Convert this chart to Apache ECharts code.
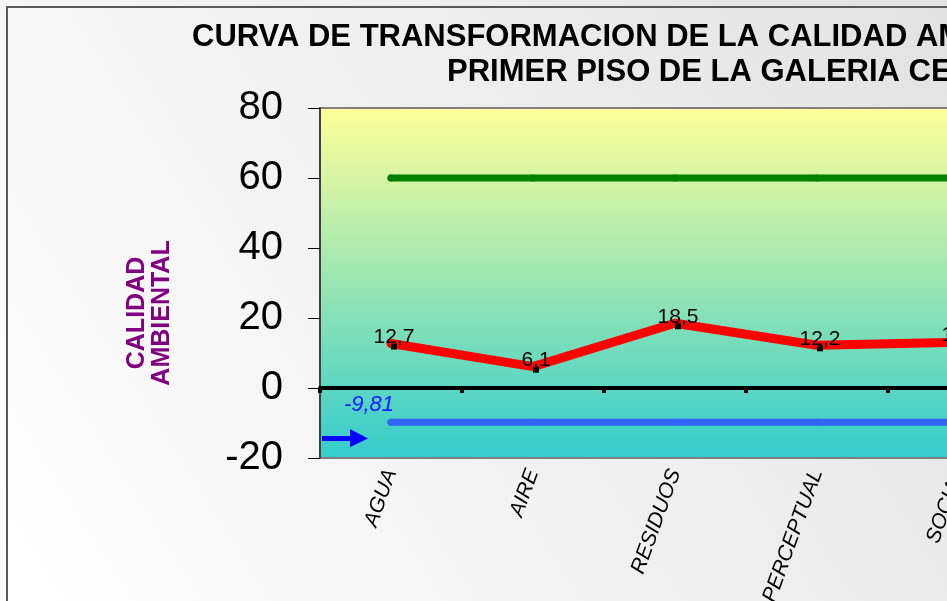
<!DOCTYPE html>
<html><head><meta charset="utf-8">
<script src="https://cdn.jsdelivr.net/npm/echarts@6/dist/echarts.min.js"></script>
<style>html,body{margin:0;padding:0;background:#fff}#c{width:947px;height:601px}</style>
</head><body><div id="c"></div>
<script>
const categories = ['AGUA', 'AIRE', 'RESIDUOS', 'PERCEPTUAL', 'SOCIAL'];
const calidad = [12.7, 6.1, 18.5, 12.2, 13.1];
const limiteSuperior = [60, 60, 60, 60, 60];
const limiteInferior = [-9.81, -9.81, -9.81, -9.81, -9.81];
const yMin = -20, yMax = 80, yInterval = 20;
const titleLines = ['CURVA DE TRANSFORMACION DE LA CALIDAD AMBIENTAL DEL', 'PRIMER PISO DE LA GALERIA CENTRAL'];
const yNameLines = ['CALIDAD', 'AMBIENTAL'];

const FONT = 'Liberation Sans, Arial, sans-serif';
const fmt = v => String(v).replace('.', ',');
const chart = echarts.init(document.getElementById('c'));
chart.setOption({
  animation: false,
  backgroundColor: {type: 'linear', x: 0, y: 1, x2: 1, y2: 0, colorStops: [{offset: 0, color: '#ffffff'}, {offset: 1, color: '#e2e2e2'}]},
  title: [
    {text: titleLines[0], left: 192, top: 22, padding: 0, textStyle: {fontSize: 31, fontWeight: 'bold', fontFamily: FONT, color: '#000'}},
    {text: titleLines[1], left: 447, top: 57, padding: 0, textStyle: {fontSize: 31, fontWeight: 'bold', fontFamily: FONT, color: '#000'}}
  ],
  grid: {
    left: 320, top: 108, height: 350, width: 710, show: true, outerBoundsMode: 'none', containLabel: false,
    backgroundColor: {type: 'linear', x: 0, y: 0, x2: 0, y2: 1, colorStops: [{offset: 0, color: '#ffff99'}, {offset: 1, color: '#33cccc'}]},
    borderColor: '#808080', borderWidth: 2
  },
  xAxis: [
    {type: 'category', data: categories, position: 'bottom',
     axisLine: {show: false, onZero: false}, axisTick: {show: false},
     axisLabel: {rotate: 70, fontSize: 21, fontStyle: 'italic', color: '#000', margin: 12, fontFamily: FONT}},
    {type: 'category', data: categories, position: 'bottom',
     axisLine: {show: true, onZero: true, lineStyle: {color: '#000', width: 4}},
     axisTick: {show: true, length: 5, lineStyle: {color: '#000', width: 4}},
     axisLabel: {show: false}}
  ],
  yAxis: {
    type: 'value', min: yMin, max: yMax, interval: yInterval,
    axisLine: {show: true, onZero: false, lineStyle: {color: '#404040', width: 2}},
    axisTick: {show: true, length: 12, lineStyle: {color: '#000', width: 1}},
    axisLabel: {fontSize: 40, color: '#000', margin: 37, fontFamily: FONT},
    splitLine: {show: false}
  },
  graphic: [
    {type: 'text', x: 150, y: 313, rotation: Math.PI / 2,
     style: {text: yNameLines.join('\n'), fill: '#800080', font: 'bold 25px Liberation Sans', align: 'center', verticalAlign: 'middle', lineHeight: 25}},
    {type: 'rect', shape: {x: 7, y: 7, width: 1200, height: 800}, style: {fill: 'none', stroke: '#5a5a5a', lineWidth: 2}, silent: true},
    {type: 'rect', shape: {x: 322, y: 436, width: 30, height: 5}, style: {fill: '#0000ff'}},
    {type: 'polygon', shape: {points: [[350, 429], [368, 438.5], [350, 447]]}, style: {fill: '#0000ff'}}
  ],
  series: [
    {type: 'line', data: limiteSuperior, symbol: 'circle', symbolSize: 7, itemStyle: {color: '#008000'},
     lineStyle: {color: '#008000', width: 7, cap: 'round'}, z: 2},
    {type: 'line', data: limiteInferior.map((v, i) => i === 0 ? {value: v, label: {show: true}} : v),
     symbol: 'circle', symbolSize: 7, itemStyle: {color: '#3366ff'},
     lineStyle: {color: '#3366ff', width: 7, cap: 'round'}, z: 2,
     label: {show: false, position: 'top', distance: 3, offset: [-22, 0], formatter: p => fmt(p.value),
       color: '#1a1aff', fontStyle: 'italic', fontSize: 22, fontFamily: FONT}},
    {type: 'line', data: calidad, symbol: 'rect', symbolSize: 6, symbolOffset: [3, 3], itemStyle: {color: '#000'},
     lineStyle: {color: '#ff0000', width: 9, cap: 'round', join: 'round'}, z: 3,
     label: {show: true, position: 'top', distance: -4, formatter: p => fmt(p.value), color: '#000', fontSize: 21, fontFamily: FONT}}
  ]
});
</script></body></html>
